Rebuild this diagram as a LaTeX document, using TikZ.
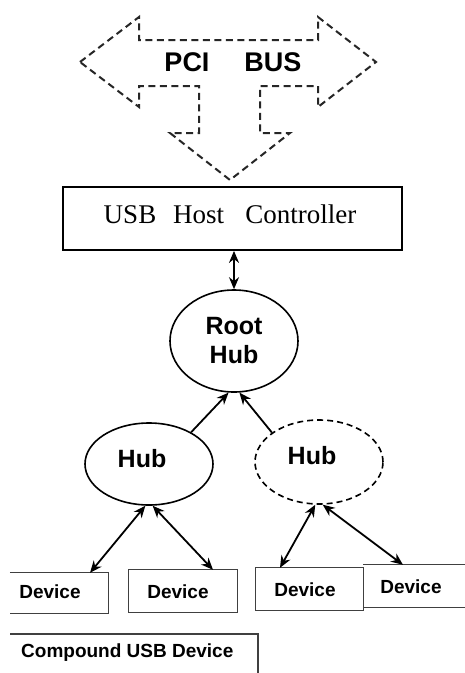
\documentclass[tikz,border=0pt]{standalone}
\usepackage{fontspec}
\setmainfont{Liberation Serif}
\setsansfont{Liberation Sans}
\usetikzlibrary{shapes.geometric,arrows.meta,calc}
\begin{document}
\begin{tikzpicture}[x=1pt,y=-1pt,
  busarrow/.style={draw=black!85, line width=2pt, dash pattern=on 7pt off 4.5pt, line join=miter},
  hubshape/.style={ellipse, draw, line width=1.6pt, minimum width=128pt, inner sep=0pt, font=\sffamily\bfseries\fontsize{25}{29}\selectfont, align=center},
  devbox/.style={draw=none, minimum width=#1, minimum height=42pt, inner sep=0pt},
  devline/.style={draw=black!75, line width=1.2pt},
  devtext/.style={font=\sffamily\bfseries\fontsize{19}{21}\selectfont, inner sep=0pt},
  hubtext/.style={font=\sffamily\bfseries\fontsize{25}{29}\selectfont, inner sep=0pt},
  link/.style={line width=1.8pt, -{Stealth[length=12pt,width=10pt]}},
  dlink/.style={line width=1.8pt, {Stealth[length=12pt,width=10pt]}-{Stealth[length=12pt,width=10pt]}},
  bustext/.style={font=\sffamily\bfseries\fontsize{27}{29}\selectfont, inner sep=0pt}
]
\useasboundingbox (0,0) rectangle (464,673);
\fill[white] (0,0) rectangle (464,673);

% PCI bus arrow
\draw[busarrow] (80,62) -- (139,17) -- (139,40) -- (318,40) -- (318,17) -- (376,62)
  -- (318,107) -- (318,86) -- (260,86) -- (260,133) -- (290,133) -- (230,180)
  -- (170,133) -- (199,133) -- (199,86) -- (139,86) -- (139,107) -- cycle;
\node[bustext] (pci) at (187,62) {PCI};
\node[bustext] (bus) at (273,62) {BUS};

% Host controller
\node[draw, line width=1.8pt, minimum width=339pt, minimum height=63pt, inner sep=0pt] (hc) at (232.5,218.5) {};
\node[font=\fontsize{27}{30}\selectfont, inner sep=0pt] (hct) at (230,214) {USB\hspace{17pt}Host\hspace{21pt}Controller};

% Hubs
\node[hubshape, minimum height=102pt] (root) at (234,341) {Root\\Hub};
\node[hubshape, minimum height=82pt] (hubL) at (149,464) {};
\node[hubtext] (hubLt) at (142,459) {Hub};
\node[hubshape, minimum height=84pt, dashed, dash pattern=on 6pt off 4pt] (hubR) at (319,462) {};
\node[hubtext] (hubRt) at (312,456) {Hub};

% Devices
\node[devbox=98pt, minimum height=40pt] (d1) at (59,593) {};
\node[devbox=108pt] (d2) at (183,591) {};
\node[devbox=107pt] (d3) at (309.5,589) {};
\node[devbox=103pt] (d4) at (414.5,586) {};
\draw[devline] (d1.north west) -- (d1.north east) -- (d1.south east) -- (d1.south west);
\draw[devline] (d2.north west) rectangle (d2.south east);
\draw[devline] (d3.north west) rectangle (d3.south east);
\draw[devline] (d4.north west) -- (d4.north east);
\draw[devline] (d4.south west) -- (d4.south east);
\node[devtext] (d1t) at (50,592) {Device};
\node[devtext] (d2t) at (178,592) {Device};
\node[devtext] (d3t) at (305,590) {Device};
\node[devtext] (d4t) at (411,587) {Device};

% Compound device
\coordinate (cTL) at (10,634);
\coordinate (cTR) at (258,634);
\coordinate (cBR) at (258,675);
\draw[devline] (cTL) -- (cTR) -- (cBR);
\node[devtext, anchor=west] (comp) at (21,653) {Compound USB Device};

% Connectors
\draw[dlink] (root.north) -- (root.north |- hc.south);
\draw[link] (hubL.37) -- (root.264);
\draw[link] (hubR.148) -- (root.276);
\draw[dlink] (hubL.265) -- ([xshift=31pt]d1.north);
\draw[dlink] (hubL.275) -- ([xshift=30pt]d2.north);
\draw[dlink] (hubR.265) -- ([xshift=-29.5pt]d3.north);
\draw[dlink] (hubR.275) -- ([xshift=-11.5pt]d4.north);
\end{tikzpicture}
\end{document}
